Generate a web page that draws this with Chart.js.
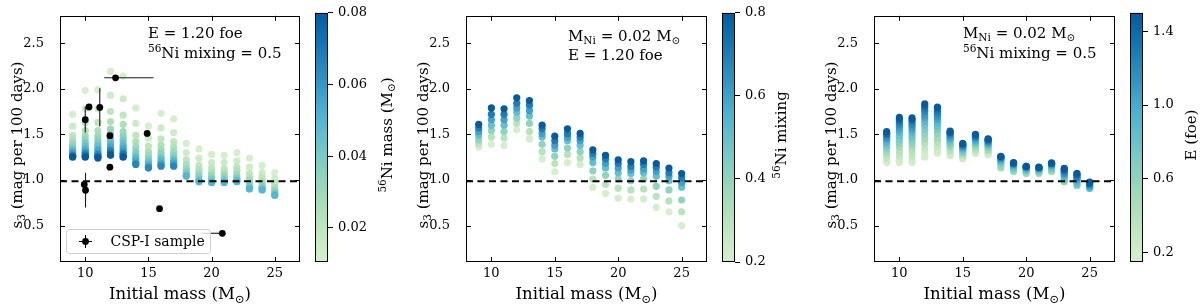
<!DOCTYPE html>
<html>
<head>
<meta charset="utf-8">
<script src="https://cdn.jsdelivr.net/npm/chart.js@4.4.0/dist/chart.umd.min.js"></script>
<style>
  html, body { margin: 0; padding: 0; background: #fff; }
  #wrap { position: relative; width: 1200px; height: 308px; overflow: hidden; }
  #wrap canvas { position: absolute; top: 0; }
</style>
</head>
<body>
<div id="wrap">
  <canvas id="p1" width="308" height="308" style="left:0px"></canvas>
  <canvas id="c1" width="85" height="308" style="left:315px"></canvas>
  <canvas id="p2" width="309" height="308" style="left:406px"></canvas>
  <canvas id="c2" width="85" height="308" style="left:722px"></canvas>
  <canvas id="p3" width="309" height="308" style="left:814px"></canvas>
  <canvas id="c3" width="70" height="308" style="left:1130px"></canvas>
</div>
<script>
// --- DATA ---
const masses = [9, 10, 11, 12, 13, 14, 15, 16, 17, 18, 19, 20, 21, 22, 23, 24, 25];
const xTicks = [10, 15, 20, 25];
const yTicks = [0.5, 1.0, 1.5, 2.0, 2.5];
const refLine = 0.985;

// panel 1: s3 for each mass (rows) and 56Ni mass (columns)
const niGrid = [0.01, 0.015, 0.02, 0.025, 0.03, 0.035, 0.04, 0.045, 0.05, 0.055, 0.06, 0.065, 0.07, 0.075, 0.08];
const s3Ni = [
  [1.72, 1.59, 1.49, 1.44, 1.40, 1.37, 1.35, 1.33, 1.31, 1.30, 1.28, 1.27, 1.26, 1.26, 1.25],
  [1.98, 1.78, 1.63, 1.54, 1.48, 1.44, 1.40, 1.37, 1.34, 1.32, 1.30, 1.29, 1.27, 1.26, 1.25],
  [1.99, 1.78, 1.63, 1.54, 1.48, 1.44, 1.40, 1.37, 1.34, 1.32, 1.29, 1.28, 1.26, 1.25, 1.24],
  [2.19, 1.93, 1.75, 1.64, 1.56, 1.51, 1.46, 1.43, 1.39, 1.36, 1.33, 1.32, 1.30, 1.28, 1.27],
  [2.14, 1.89, 1.71, 1.61, 1.53, 1.48, 1.44, 1.40, 1.37, 1.34, 1.31, 1.29, 1.28, 1.26, 1.25],
  [1.79, 1.62, 1.49, 1.42, 1.36, 1.32, 1.28, 1.25, 1.23, 1.20, 1.18, 1.17, null, null, null],
  [1.59, 1.46, 1.37, 1.31, 1.27, 1.24, 1.21, 1.19, 1.17, 1.15, 1.14, 1.13, null, null, null],
  [1.73, 1.57, 1.45, 1.38, 1.33, 1.29, 1.25, 1.23, 1.20, 1.18, 1.16, 1.15, null, null, null],
  [1.67, 1.52, 1.42, 1.36, 1.31, 1.27, 1.24, 1.22, 1.20, 1.18, 1.16, 1.15, null, null, null],
  [1.40, 1.30, 1.22, 1.17, 1.13, 1.10, 1.07, 1.05, 1.04, null, null, null, null, null, null],
  [1.34, 1.24, 1.16, 1.11, 1.07, 1.04, 1.01, 0.99, 0.98, null, null, null, null, null, null],
  [1.28, 1.19, 1.13, 1.08, 1.05, 1.02, 1.00, 0.98, 0.97, null, null, null, null, null, null],
  [1.27, 1.19, 1.12, 1.08, 1.05, 1.02, 1.00, 0.98, 0.97, null, null, null, null, null, null],
  [1.30, 1.21, 1.14, 1.10, 1.06, 1.03, 1.01, 0.99, 0.98, null, null, null, null, null, null],
  [1.24, 1.14, 1.07, 1.02, 0.99, 0.95, 0.93, 0.91, 0.90, null, null, null, null, null, null],
  [1.16, 1.08, 1.03, 0.99, 0.96, 0.93, 0.91, 0.90, 0.89, null, null, null, null, null, null],
  [1.08, 1.01, 0.96, 0.92, 0.89, 0.87, 0.85, 0.84, 0.83, null, null, null, null, null, null]
];

// observed sample (CSP-I)
const cspMass = [12.4, 10.3, 10.0, 11.15, 11.95, 11.95, 14.9, 9.92, 10.02, 15.88, 20.85];
const cspS3 = [2.12, 1.80, 1.66, 1.795, 1.485, 1.14, 1.51, 0.95, 0.887, 0.685, 0.415];
const cspXErrLo = [0.9, 0.3, 0, 0, 0, 0, 0, 0, 0, 0, 1.65];
const cspXErrHi = [3.0, 0, 0, 0, 0, 0, 0, 0, 0, 0, 0];
const cspYErr = [0, 0, 0.14, 0.21, 0, 0, 0, 0, 0.19, 0, 0];

// panel 2: s3 for each mass and 56Ni mixing
const mixGrid = [0.2, 0.3, 0.4, 0.5, 0.6, 0.7, 0.8];
const s3Mix = [
  [1.36, 1.40, 1.44, 1.49, 1.53, 1.57, 1.61],
  [1.39, 1.47, 1.54, 1.60, 1.66, 1.72, 1.79],
  [1.38, 1.46, 1.53, 1.60, 1.66, 1.72, 1.78],
  [1.55, 1.62, 1.68, 1.74, 1.79, 1.84, 1.90],
  [1.45, 1.53, 1.62, 1.70, 1.76, 1.82, 1.87],
  [1.23, 1.31, 1.39, 1.47, 1.51, 1.56, 1.60],
  [1.09, 1.18, 1.26, 1.34, 1.38, 1.43, 1.48],
  [1.19, 1.28, 1.35, 1.43, 1.47, 1.51, 1.56],
  [1.17, 1.24, 1.31, 1.38, 1.43, 1.47, 1.51],
  [0.92, 1.01, 1.10, 1.19, 1.25, 1.29, 1.33],
  [0.85, 0.95, 1.05, 1.13, 1.18, 1.23, 1.27],
  [0.80, 0.91, 1.01, 1.08, 1.13, 1.18, 1.22],
  [0.79, 0.89, 0.99, 1.07, 1.11, 1.15, 1.20],
  [0.79, 0.90, 1.01, 1.08, 1.12, 1.17, 1.21],
  [0.70, 0.82, 0.93, 1.04, 1.09, 1.14, 1.18],
  [0.65, 0.77, 0.89, 0.99, 1.04, 1.08, 1.13],
  [0.50, 0.65, 0.78, 0.92, 0.97, 1.02, 1.07]
];

// panel 3: s3 for each mass and explosion energy
const eGrid = [0.15, 0.2, 0.3, 0.4, 0.5, 0.6, 0.7, 0.8, 0.9, 1.0, 1.1, 1.2, 1.3, 1.4, 1.5];
const s3E = [
  [1.19, 1.21, 1.24, 1.28, 1.31, 1.34, 1.36, 1.39, 1.41, 1.44, 1.46, 1.48, 1.50, 1.51, 1.53],
  [1.19, 1.21, 1.26, 1.31, 1.36, 1.40, 1.44, 1.48, 1.52, 1.55, 1.58, 1.61, 1.64, 1.66, 1.685],
  [1.19, 1.21, 1.26, 1.31, 1.36, 1.40, 1.44, 1.48, 1.52, 1.55, 1.58, 1.61, 1.64, 1.66, 1.68],
  [1.25, 1.28, 1.34, 1.40, 1.45, 1.50, 1.55, 1.60, 1.64, 1.68, 1.71, 1.75, 1.78, 1.81, 1.835],
  [1.29, 1.32, 1.37, 1.42, 1.46, 1.51, 1.55, 1.59, 1.63, 1.66, 1.69, 1.72, 1.75, 1.78, 1.80],
  [1.265, 1.28, 1.31, 1.33, 1.36, 1.38, 1.40, 1.425, 1.445, 1.46, 1.48, 1.495, 1.51, 1.52, 1.535],
  [1.23, 1.24, 1.255, 1.27, 1.29, 1.30, 1.315, 1.33, 1.34, 1.355, 1.365, 1.375, 1.385, 1.39, 1.40],
  [1.29, 1.30, 1.32, 1.34, 1.36, 1.38, 1.40, 1.41, 1.43, 1.44, 1.46, 1.47, 1.48, 1.49, 1.50],
  [1.275, 1.285, 1.30, 1.32, 1.335, 1.35, 1.365, 1.38, 1.39, 1.40, 1.415, 1.425, 1.435, 1.445, 1.45],
  [null, null, null, null, 1.13, 1.16, 1.18, 1.20, 1.21, 1.225, 1.235, 1.245, 1.25, 1.255, 1.26],
  [null, null, null, null, 1.09, 1.11, 1.125, 1.14, 1.15, 1.16, 1.17, 1.175, 1.18, 1.185, 1.19],
  [null, null, null, null, 1.07, 1.085, 1.10, 1.11, 1.12, 1.13, 1.135, 1.14, 1.145, 1.148, 1.15],
  [null, null, null, null, 1.07, 1.085, 1.095, 1.105, 1.115, 1.12, 1.128, 1.133, 1.136, 1.138, 1.14],
  [null, null, null, null, 1.09, 1.11, 1.125, 1.14, 1.15, 1.16, 1.168, 1.175, 1.18, 1.183, 1.186],
  [null, null, null, null, null, 0.98, 1.00, 1.02, 1.04, 1.055, 1.07, 1.085, 1.10, 1.115, 1.126],
  [null, null, null, null, null, null, 0.94, 0.96, 0.98, 1.00, 1.015, 1.03, 1.045, 1.06, 1.073],
  [null, null, null, null, null, null, null, 0.907, 0.917, 0.927, 0.937, 0.947, 0.956, 0.966, 0.975]
];

// colorbar ticks
const niTicks = [0.02, 0.04, 0.06, 0.08];
const mixTicks = [0.2, 0.4, 0.6, 0.8];
const eTicks = [0.2, 0.6, 1.0, 1.4];

// --- HELPERS ---
const FONT = 'DejaVu Serif';
const gnbu = ['#f7fcf0', '#e0f3db', '#ccebc5', '#a8ddb5', '#7bccc4', '#4eb3d3', '#2b8cbe', '#0868ac', '#084081'];

function hexRgb(h) {
  return [1, 3, 5].map(i => parseInt(h.slice(i, i + 2), 16));
}

// GnBu, only the part from light green to dark blue
function cmap(t) {
  t = Math.min(1, Math.max(0, t));
  const s = (0.2 + 0.72 * t) * 8;
  const i = Math.min(7, Math.floor(s));
  const k = s - i;
  const a = hexRgb(gnbu[i]), b = hexRgb(gnbu[i + 1]);
  const c = a.map((v, j) => Math.round(v + (b[j] - v) * k));
  return `rgb(${c[0]},${c[1]},${c[2]})`;
}

// text with super/subscripts; parts = [[text, ''|'sup'|'sub'], ...]
function rich(ctx, parts, x, y, size, align, rotate) {
  const fontOf = k => `${k ? size * 0.7 : size}px "${FONT}"`;
  let w = 0;
  parts.forEach(([t, k]) => { ctx.font = fontOf(k); w += ctx.measureText(t).width; });
  ctx.save();
  ctx.translate(x, y);
  if (rotate) ctx.rotate(-Math.PI / 2);
  ctx.fillStyle = '#000';
  ctx.textBaseline = 'alphabetic';
  ctx.textAlign = 'left';
  let cx = align === 'center' ? -w / 2 : 0;
  parts.forEach(([t, k]) => {
    ctx.font = fontOf(k);
    const dy = k === 'sup' ? -size * 0.4 : (k === 'sub' ? size * 0.22 : 0);
    ctx.fillText(t, cx, dy);
    cx += ctx.measureText(t).width;
  });
  ctx.restore();
}

function buildPoints(grid, values) {
  const pts = [];
  grid.forEach((g, j) => {
    masses.forEach((m, i) => {
      const v = values[i][j];
      if (v !== null) pts.push({ x: m, y: v, c: g });
    });
  });
  return pts;
}

const yTitle = [['s', ''], ['3', 'sub'], [' (mag per 100 days)', '']];
const xTitle = [['Initial mass (M', ''], ['\u2299', 'sub'], [')', '']];

// frame, inward ticks, x tick labels, titles, notes, legend, error bars
const framePlugin = {
  id: 'frame',
  afterDatasetDraw(chart, args) {
    const o = chart.options.plugins.frame;
    if (!o.errors || args.index !== 1) return;
    const ctx = chart.ctx, xs = chart.scales.x, ys = chart.scales.y;
    ctx.save();
    ctx.strokeStyle = '#1a1a1a';
    ctx.lineWidth = 1.1;
    cspMass.forEach((m, i) => {
      const py = ys.getPixelForValue(cspS3[i]);
      const px = xs.getPixelForValue(m);
      if (cspXErrLo[i] || cspXErrHi[i]) {
        ctx.beginPath();
        ctx.moveTo(xs.getPixelForValue(m - cspXErrLo[i]), py);
        ctx.lineTo(xs.getPixelForValue(m + cspXErrHi[i]), py);
        ctx.stroke();
      }
      if (cspYErr[i]) {
        ctx.beginPath();
        ctx.moveTo(px, ys.getPixelForValue(cspS3[i] - cspYErr[i]));
        ctx.lineTo(px, ys.getPixelForValue(cspS3[i] + cspYErr[i]));
        ctx.stroke();
      }
    });
    ctx.restore();
  },
  afterDraw(chart) {
    const o = chart.options.plugins.frame;
    const ctx = chart.ctx, a = chart.chartArea;
    const xs = chart.scales.x, ys = chart.scales.y;
    ctx.save();
    ctx.strokeStyle = '#000';
    ctx.lineWidth = 1;
    ctx.strokeRect(Math.round(a.left) + 0.5, Math.round(a.top) + 0.5,
      Math.round(a.right - a.left) - 1, Math.round(a.bottom - a.top) - 1);
    ctx.beginPath();
    xTicks.forEach(v => {
      const px = Math.round(xs.getPixelForValue(v)) + 0.5;
      ctx.moveTo(px, a.bottom); ctx.lineTo(px, a.bottom - 5);
      ctx.moveTo(px, a.top); ctx.lineTo(px, a.top + 5);
    });
    yTicks.forEach(v => {
      const py = Math.round(ys.getPixelForValue(v)) + 0.5;
      ctx.moveTo(a.left, py); ctx.lineTo(a.left + 5, py);
      ctx.moveTo(a.right, py); ctx.lineTo(a.right - 5, py);
    });
    ctx.stroke();
    // x tick labels
    ctx.fillStyle = '#000';
    ctx.font = `13px "${FONT}"`;
    ctx.textAlign = 'center';
    ctx.textBaseline = 'alphabetic';
    xTicks.forEach(v => ctx.fillText(String(v), xs.getPixelForValue(v), 277));
    ctx.restore();

    rich(ctx, yTitle, a.left - 44 + 5.5, 145, 15, 'center', true);
    rich(ctx, xTitle, (a.left + a.right) / 2, 299, 16.5, 'center', false);
    o.notes.forEach((line, i) => rich(ctx, line, a.left + o.noteX, o.noteY[i], 15, 'left', false));

    if (o.legend) {
      ctx.save();
      ctx.fillStyle = 'rgba(255,255,255,0.8)';
      ctx.strokeStyle = '#d0d0d0';
      ctx.lineWidth = 1;
      ctx.beginPath();
      ctx.roundRect(66.5, 229.5, 144, 24, 3);
      ctx.fill();
      ctx.stroke();
      ctx.strokeStyle = '#000';
      ctx.beginPath();
      ctx.moveTo(79, 241.5); ctx.lineTo(92, 241.5);
      ctx.moveTo(85.5, 235); ctx.lineTo(85.5, 248);
      ctx.stroke();
      ctx.fillStyle = '#000';
      ctx.beginPath();
      ctx.arc(85.5, 241.5, 3.4, 0, Math.PI * 2);
      ctx.fill();
      ctx.restore();
      rich(ctx, [['CSP-I sample', '']], 110.5, 246, 14, 'left', false);
    }
  }
};

function panel(id, grid, values, vmin, vmax, extra) {
  const pts = buildPoints(grid, values);
  const datasets = [];
  datasets.push({
    data: extra.errors ? cspMass.map((m, i) => ({ x: m, y: cspS3[i] })) : [],
    pointRadius: 3.4, pointBackgroundColor: '#000', pointBorderWidth: 0
  });
  datasets.push({
    data: [{ x: 8, y: refLine }, { x: 27, y: refLine }],
    showLine: true, borderColor: '#000', borderWidth: 2, borderDash: [7, 4.5], pointRadius: 0
  });
  datasets.push({
    data: pts, pointRadius: 3.6, pointBorderWidth: 0,
    pointBackgroundColor: pts.map(p => cmap((p.c - vmin) / (vmax - vmin)))
  });
  const tickFont = { family: FONT, size: 13 };
  new Chart(document.getElementById(id), {
    type: 'scatter',
    data: { datasets },
    options: {
      responsive: false, animation: false, devicePixelRatio: 1,
      layout: { padding: { top: 8, right: 8, left: 0, bottom: 0 } },
      plugins: { legend: { display: false }, tooltip: { enabled: false }, frame: extra },
      scales: {
        x: {
          type: 'linear', min: 8, max: 27,
          afterBuildTicks: s => { s.ticks = xTicks.map(v => ({ value: v })); },
          afterFit: s => { s.height = 46; },
          grid: { display: false }, border: { display: false },
          ticks: { display: false }
        },
        y: {
          type: 'linear', min: 0.1, max: 2.8,
          afterBuildTicks: s => { s.ticks = yTicks.map(v => ({ value: v })); },
          afterFit: s => { s.width = 60; },
          grid: { display: false }, border: { display: false },
          ticks: { padding: 8, color: '#000', font: tickFont, callback: v => v.toFixed(1) }
        }
      }
    },
    plugins: [framePlugin]
  });
}

const cbPlugin = {
  id: 'cbar',
  afterDraw(chart) {
    const o = chart.options.plugins.cbar;
    const ctx = chart.ctx, a = chart.chartArea;
    ctx.save();
    ctx.strokeStyle = '#000';
    ctx.lineWidth = 1;
    ctx.strokeRect(Math.round(a.left) + 0.5, Math.round(a.top) + 0.5,
      Math.round(a.right - a.left) - 1, Math.round(a.bottom - a.top) - 1);
    ctx.restore();
    rich(ctx, o.label, o.labelX + 5.5, 135, 15, 'center', true);
  }
};

function colorbar(id, vmin, vmax, ticks, digits, label, labelX) {
  const el = document.getElementById(id);
  new Chart(el, {
    type: 'bar',
    data: {
      labels: [''],
      datasets: [{
        data: [[vmin, vmax]],
        borderWidth: 0, barPercentage: 1, categoryPercentage: 1,
        backgroundColor: c => {
          const a = c.chart.chartArea;
          if (!a) return '#fff';
          const g = c.chart.ctx.createLinearGradient(0, a.bottom, 0, a.top);
          for (let k = 0; k <= 20; k++) g.addColorStop(k / 20, cmap(k / 20));
          return g;
        }
      }]
    },
    options: {
      responsive: false, animation: false, devicePixelRatio: 1,
      layout: { padding: { top: 8, bottom: 46, left: 0, right: 0 } },
      plugins: { legend: { display: false }, tooltip: { enabled: false }, cbar: { label, labelX } },
      scales: {
        x: { display: false },
        y: {
          position: 'right', min: vmin, max: vmax,
          afterBuildTicks: s => { s.ticks = ticks.map(v => ({ value: v })); },
          afterFit: s => { s.width = el.width - 13; },
          grid: { display: true, drawOnChartArea: false, drawTicks: true, tickLength: 5, color: '#000', lineWidth: 1 },
          border: { display: false },
          ticks: { padding: 5, color: '#000', font: { family: FONT, size: 13 }, callback: v => v.toFixed(digits) }
        }
      }
    },
    plugins: [cbPlugin]
  });
}

const massNote = [['M', ''], ['Ni', 'sub'], [' = 0.02 M', ''], ['\u2299', 'sub']];
const energyNote = [['E = 1.20 foe', '']];
const mixNote = [['56', 'sup'], ['Ni mixing = 0.5', '']];

panel('p1', niGrid, s3Ni, 0.0105, 0.08,
  { notes: [energyNote, mixNote], noteX: 88, noteY: [37.5, 57.5], legend: true, errors: true });
panel('p2', mixGrid, s3Mix, 0.2, 0.8,
  { notes: [massNote, energyNote], noteX: 102, noteY: [40.5, 59.5], legend: false, errors: false });
panel('p3', eGrid, s3E, 0.15, 1.5,
  { notes: [massNote, mixNote], noteX: 89, noteY: [37.5, 57.5], legend: false, errors: false });

colorbar('c1', 0.0105, 0.08, niTicks, 2, [['56', 'sup'], ['Ni mass (M', ''], ['\u2299', 'sub'], [')', '']], 71);
colorbar('c2', 0.2, 0.8, mixTicks, 1, [['56', 'sup'], ['Ni mixing', '']], 58);
colorbar('c3', 0.15, 1.5, eTicks, 1, [['E (foe)', '']], 60);
</script>
</body>
</html>
